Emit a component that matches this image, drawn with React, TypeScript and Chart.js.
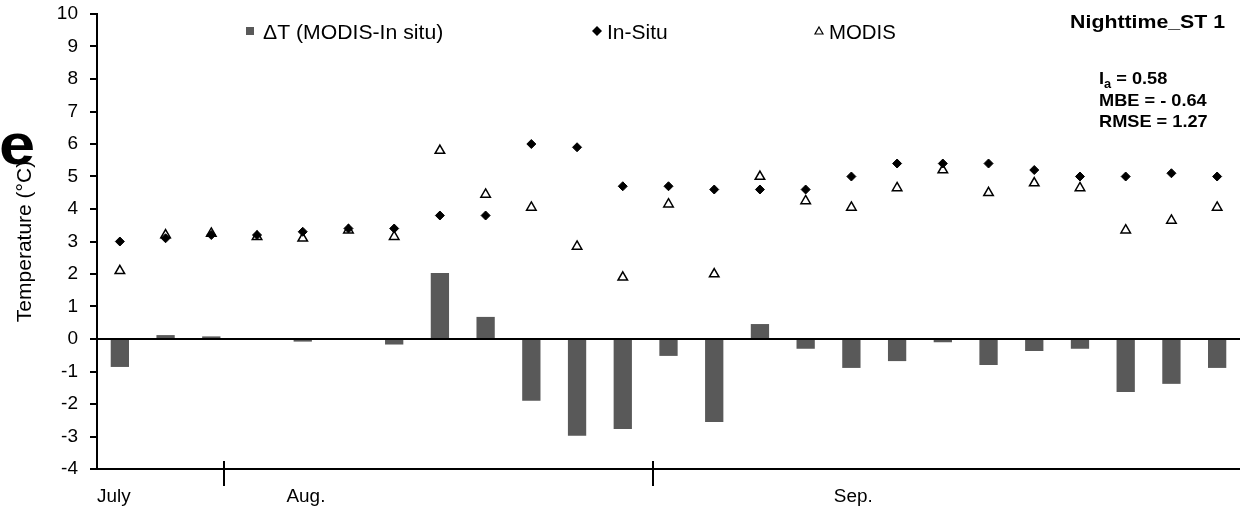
import { useEffect, useRef } from "react";
import { Chart, registerables } from "chart.js";

Chart.register(...registerables);

// ---------- data ----------
const categories = [
  "1", "2", "3", "4", "5", "6", "7", "8", "9", "10", "11", "12", "13",
  "14", "15", "16", "17", "18", "19", "20", "21", "22", "23", "24", "25",
];
const deltaT = [
  -0.86, 0.12, 0.08, 0.03, -0.08, 0.03, -0.17, 2.03, 0.68, -1.9, -2.98, -2.77, -0.52,
  -2.55, 0.46, -0.3, -0.89, -0.68, -0.1, -0.8, -0.37, -0.3, -1.63, -1.38, -0.89,
];
const inSitu = [
  3.0, 3.1, 3.2, 3.2, 3.3, 3.4, 3.4, 3.8, 3.8, 6.0, 5.9, 4.7, 4.7,
  4.6, 4.6, 4.6, 5.0, 5.4, 5.4, 5.4, 5.2, 5.0, 5.0, 5.1, 5.0,
];
const modis = [
  2.1, 3.2, 3.25, 3.15, 3.1, 3.35, 3.15, 5.8, 4.45, 4.05, 2.85, 1.9, 4.15,
  2.0, 5.0, 4.25, 4.05, 4.65, 5.2, 4.5, 4.8, 4.65, 3.35, 3.65, 4.05,
];
const seriesLabels = ["ΔT (MODIS-In situ)", "In-Situ", "MODIS"];
const Y_MIN = -4;
const Y_MAX = 10;
const Y_STEP = 1;
const yTitle = "Temperature (°C)";
const months = ["July", "Aug.", "Sep."];
const monthCenters = [-0.13, 4.07, 16.04]; // in category units
const monthBreaks = [2.27, 11.66]; // in category units
const panelTitle = "Nighttime_ST 1";
const panelLetter = "e";
const statNames = ["I", "MBE", "RMSE"];
const statSubs = ["a", "", ""];
const statValues = ["0.58", "- 0.64", "1.27"];

const FONT = "'Liberation Sans', Arial, sans-serif";
const BAR_COLOR = "#595959";

function stretchedText(
  ctx: CanvasRenderingContext2D,
  text: string,
  x: number,
  y: number,
  font: string,
  sx: number,
  align: CanvasTextAlign = "left"
) {
  ctx.save();
  ctx.font = font;
  ctx.textAlign = align;
  ctx.textBaseline = "alphabetic";
  ctx.fillStyle = "#000";
  ctx.translate(x, y);
  ctx.scale(sx, 1);
  ctx.fillText(text, 0, 0);
  ctx.restore();
}

function textWidth(ctx: CanvasRenderingContext2D, text: string, font: string, sx: number) {
  ctx.save();
  ctx.font = font;
  const w = ctx.measureText(text).width * sx;
  ctx.restore();
  return w;
}

const overlayPlugin = {
  id: "overlay",
  afterDraw(chart: any) {
    const ctx: CanvasRenderingContext2D = chart.ctx;
    const xs = chart.scales.x;
    const area = chart.chartArea;

    // ---- legend ----
    const legFont = `20px ${FONT}`;
    const legY = 39;
    const legMarkY = 31;
    ctx.save();
    ctx.fillStyle = BAR_COLOR;
    ctx.fillRect(246, legMarkY - 4, 8, 8);
    ctx.restore();
    stretchedText(ctx, seriesLabels[0], 263, legY, legFont, 1.06);
    ctx.save();
    ctx.fillStyle = "#000";
    ctx.beginPath();
    ctx.moveTo(597, legMarkY - 5);
    ctx.lineTo(602, legMarkY);
    ctx.lineTo(597, legMarkY + 5);
    ctx.lineTo(592, legMarkY);
    ctx.closePath();
    ctx.fill();
    ctx.restore();
    stretchedText(ctx, seriesLabels[1], 607, legY, legFont, 1.05);
    ctx.save();
    ctx.strokeStyle = "#000";
    ctx.lineWidth = 1.2;
    ctx.fillStyle = "#fff";
    ctx.beginPath();
    ctx.moveTo(819, legMarkY - 4);
    ctx.lineTo(823, legMarkY + 3);
    ctx.lineTo(815, legMarkY + 3);
    ctx.closePath();
    ctx.fill();
    ctx.stroke();
    ctx.restore();
    stretchedText(ctx, seriesLabels[2], 829, legY, legFont, 1.02);

    // ---- panel title & stats ----
    stretchedText(ctx, panelTitle, 1225, 28, `bold 19px ${FONT}`, 1.12, "right");
    const sFont = `bold 17px ${FONT}`;
    const subFont = `bold 12px ${FONT}`;
    const sx = 1.07;
    const baselines = [84, 106, 127];
    statNames.forEach((nm, i) => {
      let x = 1099;
      const y = baselines[i];
      stretchedText(ctx, nm, x, y, sFont, sx);
      x += textWidth(ctx, nm, sFont, sx);
      if (statSubs[i]) {
        stretchedText(ctx, statSubs[i], x, y + 4, subFont, sx);
        x += textWidth(ctx, statSubs[i], subFont, sx);
      }
      stretchedText(ctx, " = " + statValues[i], x, y, sFont, sx);
    });

    // ---- month labels & separators ----
    ctx.save();
    ctx.strokeStyle = "#000";
    ctx.lineWidth = 2;
    monthBreaks.forEach((b) => {
      const px = Math.round(xs.getPixelForValue(b));
      ctx.beginPath();
      ctx.moveTo(px, area.bottom - 8);
      ctx.lineTo(px, area.bottom + 17);
      ctx.stroke();
    });
    ctx.restore();
    months.forEach((m, i) => {
      const px = xs.getPixelForValue(monthCenters[i]);
      stretchedText(ctx, m, px, 502, `18px ${FONT}`, 1.05, "center");
    });

    // ---- panel letter ----
    stretchedText(ctx, panelLetter, -1, 164, `bold 58px ${FONT}`, 1.12);
  },
};

export default function App() {
  const canvasRef = useRef<HTMLCanvasElement | null>(null);

  useEffect(() => {
    if (!canvasRef.current) return;
    Chart.defaults.font.family = FONT;
    Chart.defaults.color = "#000";
    const chart = new Chart(canvasRef.current, {
      type: "bar",
      data: {
        labels: categories,
        datasets: [
          {
            type: "bar",
            label: seriesLabels[0],
            data: deltaT,
            backgroundColor: BAR_COLOR,
            borderWidth: 0,
            categoryPercentage: 1,
            barPercentage: 0.4,
            order: 3,
          },
          {
            type: "line",
            label: seriesLabels[1],
            data: inSitu,
            showLine: false,
            pointStyle: "rectRot",
            pointRadius: 4.5,
            pointBackgroundColor: "#000",
            pointBorderColor: "#000",
            pointBorderWidth: 1,
            order: 1,
          },
          {
            type: "line",
            label: seriesLabels[2],
            data: modis,
            showLine: false,
            pointStyle: "triangle",
            pointRadius: 5.5,
            pointBackgroundColor: "#fff",
            pointBorderColor: "#000",
            pointBorderWidth: 1.5,
            order: 2,
          },
        ],
      },
      options: {
        responsive: false,
        animation: false,
        events: [],
        layout: { autoPadding: false, padding: { top: 14, right: 0, bottom: 41, left: 0 } },
        plugins: {
          legend: { display: false },
          tooltip: { enabled: false },
          title: { display: false },
        },
        scales: {
          x: {
            offset: true,
            ticks: { display: false },
            grid: { display: false, drawTicks: false, tickLength: 0 },
            border: { display: true, color: "#000", width: 2 },
            afterFit: (scale: any) => {
              scale.paddingLeft = 0;
              scale.paddingRight = 0;
              scale.paddingTop = 0;
              scale.paddingBottom = 0;
              scale.height = 0;
            },
          },
          y: {
            min: Y_MIN,
            max: Y_MAX,
            ticks: {
              stepSize: Y_STEP,
              padding: 12,
              color: "#000",
              font: { size: 19, family: FONT },
            },
            grid: {
              drawOnChartArea: true,
              drawTicks: true,
              tickLength: 7,
              tickWidth: 2,
              tickColor: "#000",
              color: (c: any) => (c.tick && c.tick.value === 0 ? "#000" : "rgba(0,0,0,0)"),
              lineWidth: (c: any) => (c.tick && c.tick.value === 0 ? 2 : 0),
            },
            border: { display: true, color: "#000", width: 2 },
            title: {
              display: true,
              text: yTitle,
              color: "#000",
              font: { size: 21, family: FONT },
              padding: { top: 13, bottom: 0 },
            },
            afterFit: (scale: any) => {
              scale.width = 97;
              scale.paddingTop = 0;
              scale.paddingBottom = 0;
            },
          },
        },
      },
      plugins: [overlayPlugin],
    });
    return () => chart.destroy();
  }, []);

  return (
    <div style={{ position: "absolute", left: 0, top: 0, width: 1240, height: 510, background: "#fff" }}>
      <canvas ref={canvasRef} width={1240} height={510} style={{ display: "block" }} />
    </div>
  );
}
